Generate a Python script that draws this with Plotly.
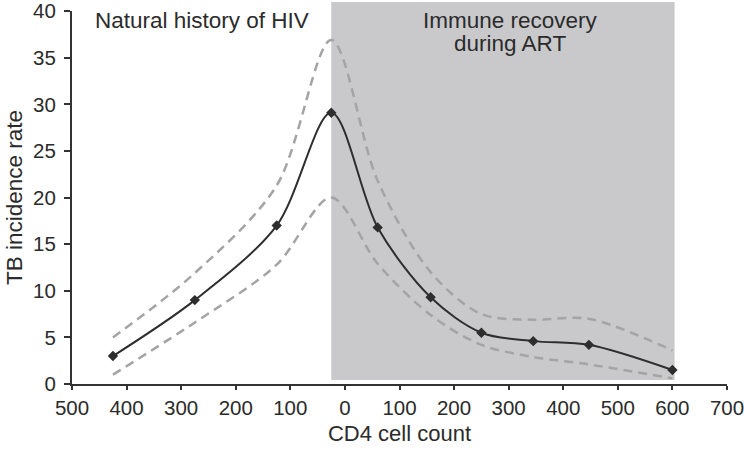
import plotly.graph_objects as go

# Position on a signed axis: negative = "natural history" side (CD4 declining), positive = ART side
x_pos = [-425, -275, -125, -25, 60, 157, 250, 345, 447, 600]
tb_rate = [3.0, 9.0, 17.0, 29.1, 16.8, 9.3, 5.5, 4.6, 4.2, 1.5]
upper_ci = [5.0, 11.9, 21.3, 36.9, 21.8, 12.0, 7.5, 6.9, 7.0, 3.6]
lower_ci = [1.0, 6.6, 12.8, 20.0, 12.9, 7.4, 4.2, 2.9, 2.1, 0.6]

tick_vals = [-500, -400, -300, -200, -100, 0, 100, 200, 300, 400, 500, 600, 700]
tick_text = ["500", "400", "300", "200", "100", "0", "100", "200", "300", "400", "500", "600", "700"]
y_ticks = [0, 5, 10, 15, 20, 25, 30, 35, 40]

art_start = -25
art_end = 604

FONT = "Liberation Sans, Arial, sans-serif"
TXT = "#2b2b2b"

TOP, BOT = 11, 384
PH = BOT - TOP

fig = go.Figure()

fig.add_shape(type="rect", xref="x", yref="paper", x0=art_start, x1=art_end,
              y0=4 / PH, y1=(BOT - 2) / PH, fillcolor="#c9c9cb", line=dict(width=0), layer="below")

for ci in (upper_ci, lower_ci):
    fig.add_trace(go.Scatter(x=x_pos, y=ci, mode="lines",
                             line=dict(color="#a4a4a4", width=2.5, dash="9px,6px", shape="spline", smoothing=0.9),
                             showlegend=False, hoverinfo="skip"))

fig.add_trace(go.Scatter(x=x_pos, y=tb_rate, mode="lines+markers",
                         line=dict(color="#2e2e2e", width=2, shape="spline", smoothing=0.9),
                         marker=dict(symbol="diamond", size=8, color="#2e2e2e"),
                         showlegend=False))


def ypix(p):
    return (BOT - p) / PH


def xpix(p):
    return (p - 72) / 655


fig.add_annotation(text="Natural history of HIV", xref="paper", yref="paper",
                   x=xpix(202), y=ypix(20), showarrow=False,
                   font=dict(family=FONT, size=22.5, color=TXT), xanchor="center", yanchor="middle")
fig.add_annotation(text="Immune recovery", xref="paper", yref="paper",
                   x=xpix(510), y=ypix(20), showarrow=False,
                   font=dict(family=FONT, size=22.5, color=TXT), xanchor="center", yanchor="middle")
fig.add_annotation(text="during ART", xref="paper", yref="paper",
                   x=xpix(510), y=ypix(44), showarrow=False,
                   font=dict(family=FONT, size=22.5, color=TXT), xanchor="center", yanchor="middle")

fig.update_layout(
    width=744, height=451,
    margin=dict(l=72, r=17, t=TOP, b=451 - BOT),
    paper_bgcolor="white", plot_bgcolor="white",
    font=dict(family=FONT, color=TXT),
    xaxis=dict(range=[-500, 700], tickvals=tick_vals, ticktext=tick_text, automargin=False,
               showgrid=False, zeroline=False, showline=True, linecolor="#333", linewidth=2,
               ticks="outside", ticklen=4, tickwidth=1.5, tickcolor="#333",
               tickfont=dict(size=20.5, family=FONT, color=TXT), ticklabelstandoff=0,
               ticklabeloverflow="allow",
               title=dict(text="CD4 cell count", font=dict(size=22, family=FONT, color=TXT), standoff=8)),
    yaxis=dict(range=[0, 40.02], tickvals=y_ticks, automargin=False,
               showgrid=False, zeroline=False, showline=True, linecolor="#333", linewidth=2,
               ticks="outside", ticklen=6, tickwidth=1.5, tickcolor="#333",
               tickfont=dict(size=20.5, family=FONT, color=TXT), ticklabelstandoff=4,
               ticklabeloverflow="allow",
               title=dict(text="TB incidence rate", font=dict(size=22.5, family=FONT, color=TXT), standoff=4)),
)

fig.write_html("out.html", config={"displayModeBar": False},
               post_script="document.body.style.margin='0';document.body.style.overflow='hidden';")
